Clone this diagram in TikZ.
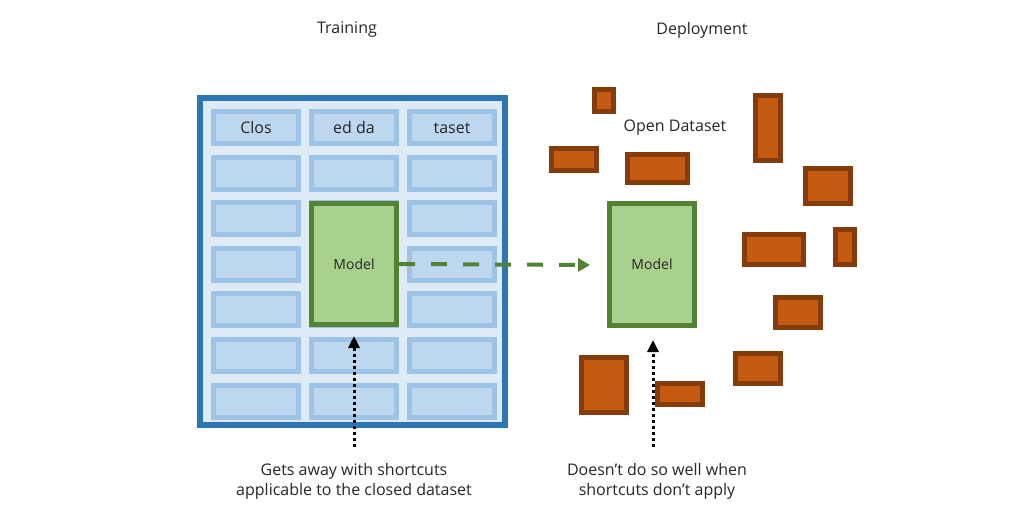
\documentclass[tikz,border=0pt]{standalone}
\usepackage{fontspec}
\setmainfont{Open Sans}
\usetikzlibrary{arrows.meta}
\definecolor{outerb}{HTML}{2E75B6}
\definecolor{outerf}{HTML}{DEEBF7}
\definecolor{cellb}{HTML}{9DC3E6}
\definecolor{cellf}{HTML}{BDD7EE}
\definecolor{gb}{HTML}{548235}
\definecolor{gf}{HTML}{A9D18E}
\definecolor{ob}{HTML}{843C0C}
\definecolor{of}{HTML}{C55A11}
\definecolor{txt}{HTML}{262626}
\begin{document}
\begin{tikzpicture}[x=1pt,y=-1pt,
  lbl/.style={text=txt,font=\fontsize{16}{20}\selectfont,align=center,inner sep=0},
  cell/.style={draw=cellb,fill=cellf,line width=5pt},
  model/.style={draw=gb,fill=gf,line width=5pt,text=txt,font=\fontsize{14}{16}\selectfont},
  ob/.style={draw=ob,fill=of,line width=5pt}]
\useasboundingbox (0,0) rectangle (1024,521);
\node[lbl] (t1) at (347,30) {Training};
\node[lbl] (t2) at (702,30) {Deployment};
\draw[draw=outerb,fill=outerf,line width=6pt] (200,98) rectangle (505,425);
\foreach \c/\x in {1/211,2/309,3/407}{
  \foreach \r/\y in {1/109,2/155,3/200,4/246,5/291,6/337,7/383}{
    \draw[cell] (\x+2.5,\y+2.5) rectangle (\x+87.5,\y+34.5);
  }}
\node[lbl] (c1) at (256,128) {Clos};
\node[lbl] (c2) at (354,128) {ed da};
\node[lbl] (c3) at (452,128) {taset};
\node[model,minimum width=85pt,minimum height=121pt] (m1) at (354,264) {Model};
\node[model,minimum width=85pt,minimum height=122pt] (m2) at (652,264.5) {Model};
\node[lbl] (od) at (675,128) {Open Dataset};
\foreach \a/\b/\c/\d in {592/87/616/114,549/146/599/173,625/152/690/185,753/93/783/163,803/166/853/206,742/232/806/267,833/227/857/267,773/295/823/330,733/351/783/386,579/355/629/415,655/381/705/407}{
  \draw[ob] (\a+2.5,\b+2.5) rectangle (\c-2.5,\d-2.5);
}
\draw[gb,line width=4pt,dash pattern=on 16pt off 16pt,-{Triangle[length=12pt,width=13pt]}] (m1.east) -- (590,265);
\coordinate (s1) at (354,447);
\coordinate (s2) at (653,447);
\draw[line width=3pt,dash pattern=on 3pt off 3pt,-{Triangle[length=12pt,width=11pt]}] (s1) -- (354,336);
\draw[line width=3pt,dash pattern=on 3pt off 3pt,-{Triangle[length=12pt,width=11pt]}] (s2) -- (653,340);
\node[lbl] (b1) at (354,481) {Gets away with shortcuts\\applicable to the closed dataset};
\node[lbl] (b2) at (657,481) {Doesn’t do so well when\\shortcuts don’t apply};
\end{tikzpicture}
\end{document}
